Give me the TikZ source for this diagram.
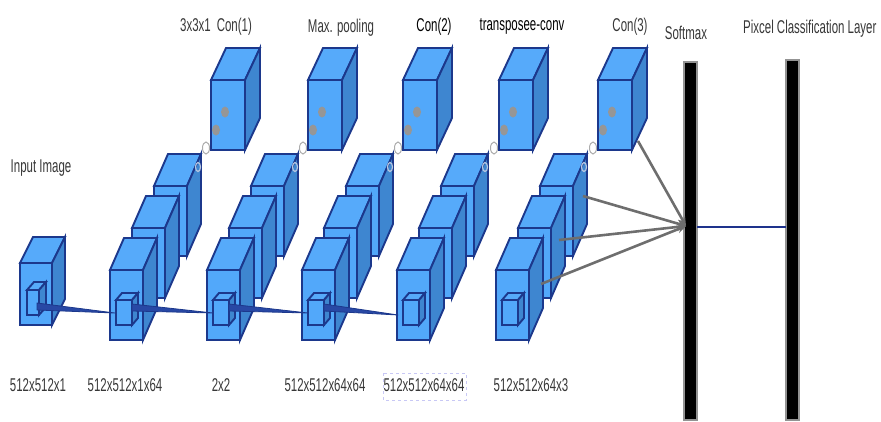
\documentclass[tikz,border=0pt]{standalone}
\usepackage{fontspec}
\setmainfont{Liberation Sans}
\newfontfamily\nar[FakeStretch=0.62]{Liberation Sans}
\usetikzlibrary{arrows.meta}
\definecolor{frontc}{RGB}{82,168,250}
\definecolor{topc}{RGB}{86,170,250}
\definecolor{sidec}{RGB}{62,134,208}
\definecolor{edgec}{RGB}{28,56,140}
\definecolor{wedgec}{RGB}{40,72,165}
\definecolor{arrc}{RGB}{110,110,110}
\definecolor{txtc}{RGB}{55,55,55}
\definecolor{lav}{RGB}{200,200,245}
\definecolor{ringc}{RGB}{185,200,225}
\definecolor{dotc}{RGB}{150,150,150}
\definecolor{linec}{RGB}{30,50,140}
% x y w h dx up
\newcommand{\mycube}[6]{%
 \filldraw[cubeline,fill=topc] ({#1},{#2}) -- ({#1+#5},{#2-#6}) -- ({#1+#3+#5},{#2-#6}) -- ({#1+#3},{#2}) -- cycle;
 \filldraw[cubeline,fill=sidec] ({#1+#3},{#2}) -- ({#1+#3+#5},{#2-#6}) -- ({#1+#3+#5},{#2+#4-#6}) -- ({#1+#3},{#2+#4}) -- cycle;
 \filldraw[cubeline,fill=frontc] ({#1},{#2}) rectangle ({#1+#3},{#2+#4});
}
\begin{document}
\begin{tikzpicture}[x=1pt,y=-1pt,
  cubeline/.style={draw=edgec,line width=1.9pt,line join=miter},
  lbl/.style={font={\nar\fontsize{18.5}{20}\selectfont}, text=txtc, inner sep=0pt, anchor=base},
  blbl/.style={lbl, text=black},
  wedge/.style={fill=wedgec, draw=edgec, line width=0.8pt, line join=round},
  garrow/.style={draw=arrc, line width=2.6pt, -{Stealth[length=9pt,width=8pt]}},
  bar/.style={fill=black, draw=gray!85, line width=1.2pt}]
\useasboundingbox (0,0) rectangle (881,421);

% input cube
\mycube{20}{263}{32}{62}{13}{26}
\mycube{27}{290}{12}{25}{7}{8}

% stacks
\foreach \x in {110,207,302,397,496}{
  \mycube{\x+44}{186}{33}{70}{14}{32}
  \mycube{\x+22}{228}{33}{70}{14}{32}
  \mycube{\x}{270}{33}{70}{14}{32}
  \mycube{\x+6}{300}{16}{25}{6}{7}
  \draw[ringc, line width=1.2pt] ({\x+88},167) ellipse [x radius=2.5pt, y radius=4.5pt];
}

% top cubes
\foreach \x in {211,308,403,499,598}{
  \mycube{\x}{80}{34}{70}{15}{32}
  \fill[dotc] ({\x+14},112) ellipse [x radius=4pt, y radius=5.5pt];
  \fill[dotc] ({\x+5},130) ellipse [x radius=4pt, y radius=5.5pt];
  \filldraw[fill=white, draw=gray!65, line width=1pt] ({\x-5},148) ellipse [x radius=3.5pt, y radius=6pt];
}

% wedge connectors
\coordinate (w1a) at (37,303); \coordinate (w1b) at (37,310); \coordinate (w1t) at (115,313);
\coordinate (w2a) at (132,304); \coordinate (w2b) at (132,311); \coordinate (w2t) at (213,313);
\coordinate (w3a) at (229,304); \coordinate (w3b) at (229,311); \coordinate (w3t) at (308,313);
\coordinate (w4a) at (324,304); \coordinate (w4b) at (324,311); \coordinate (w4t) at (398,315);
\filldraw[wedge] (w1a) -- (w1t) -- (w1b) -- cycle;
\filldraw[wedge] (w2a) -- (w2t) -- (w2b) -- cycle;
\filldraw[wedge] (w3a) -- (w3t) -- (w3b) -- cycle;
\filldraw[wedge] (w4a) -- (w4t) -- (w4b) -- cycle;

% bars
\filldraw[bar] (684,62) rectangle (697,420);
\filldraw[bar] (786,60) rectangle (799,420);
\coordinate (sm) at (686,226);
\coordinate (smr) at (697,227);
\coordinate (pcl) at (786,227);
\draw[linec, line width=2pt] (smr) -- (pcl);

% grey arrows
\coordinate (g1) at (638,141);
\coordinate (g2) at (583,196);
\coordinate (g3) at (559,240);
\coordinate (g4) at (541,284);
\draw[garrow] (g1) -- (sm);
\draw[garrow] (g2) -- (sm);
\draw[garrow] (g3) -- (sm);
\draw[garrow] (g4) -- (sm);

% labels
\node[lbl] (tin) at (41,172) {Input Image};
\node[lbl] (tc1) at (216,31) {3x3x1\hspace{6pt}Con(1)};
\node[lbl] (tmp) at (341,32) {Max. pooling};
\node[blbl] (tc2) at (434,31) {Con(2)};
\node[blbl] (ttc) at (522,30) {transposee-conv};
\node[lbl] (tc3) at (630,31) {Con(3)};
\node[lbl] (tsm) at (686,39) {Softmax};
\node[lbl, anchor=base west] (tpc) at (743,33) {Pixcel Classification Layer};

\node[lbl] (b1) at (38,391) {512x512x1};
\node[lbl] (b2) at (125,391) {512x512x1x64};
\node[lbl] (b3) at (221,391) {2x2};
\node[lbl] (b4) at (325,391) {512x512x64x64};
\node[lbl] (b5) at (424,391) {512x512x64x64};
\node[lbl] (b6) at (531,391) {512x512x64x3};
\draw[lav, dashed, line width=0.8pt] (383,373) rectangle (466,400);
\end{tikzpicture}
\end{document}
